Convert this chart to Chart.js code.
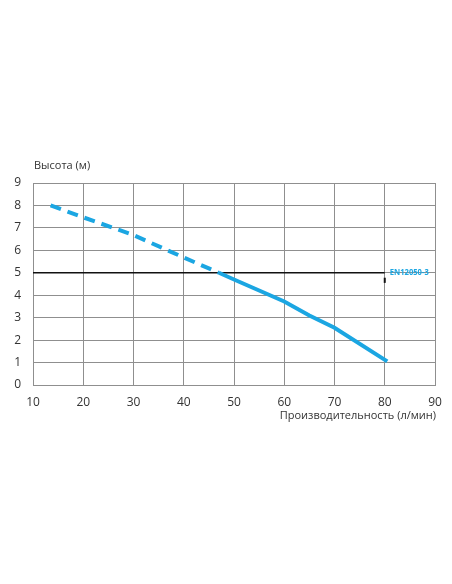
<!DOCTYPE html>
<html><head><meta charset="utf-8">
<script src="https://cdn.jsdelivr.net/npm/chart.js@4.4.1/dist/chart.umd.min.js"></script>
<style>html,body{margin:0;padding:0;background:#fff;}#wrap{width:452px;height:584px;}</style>
</head><body><div id="wrap"><canvas id="c"></canvas></div>
<script>
const xTicks = [10,20,30,40,50,60,70,80,90];
const yTicks = [0,1,2,3,4,5,6,7,8,9];
const dashedX = [13.5,20,30,40,47];
const dashedY = [8.0,7.47,6.68,5.68,5.0];
const solidX = [47,50,60,65,70,80.5];
const solidY = [5.0,4.7,3.72,3.1,2.55,1.05];
const normX = [10,80];
const normY = [5,5];
const normLabel = 'EN12050-3';
const xTitle = 'Производительность (л/мин)';
const yTitle = 'Высота (м)';

const pts = (xs, ys) => xs.map((x,i)=>({x, y: ys[i]}));
const blue = '#1ba6e2';

const labels = {
  id:'labels',
  afterDraw(chart){
    const {ctx, scales:{x,y}, chartArea} = chart;
    ctx.save();
    ctx.fillStyle = '#333';
    ctx.font = '11px "Open Sans"';
    ctx.textBaseline = 'middle';
    ctx.textAlign = 'left';
    ctx.fillText(yTitle, 34, 166);
    ctx.textAlign = 'right';
    ctx.fillText(xTitle, chartArea.right + 1, 416);
    ctx.fillStyle = blue;
    ctx.font = 'bold 9px "Open Sans", sans-serif';
    ctx.textAlign = 'left';
    const w = ctx.measureText(normLabel).width;
    const sx = 39 / w;
    const px = x.getPixelForValue(normX[1]) + 5;
    const py = y.getPixelForValue(normY[1]);
    ctx.translate(px, py);
    ctx.scale(sx, 1);
    ctx.fillText(normLabel, 0, 0);
    ctx.restore();
  }
};

new Chart(document.getElementById('c'), {
  type:'line',
  data:{datasets:[
    {data: pts(dashedX, dashedY), borderColor: blue, borderWidth: 4, borderDash:[11,7], pointRadius:0, tension:0},
    {data: pts(solidX, solidY), borderColor: blue, borderWidth: 4, pointRadius:0, tension:0},
    {data: pts(normX, normY), borderColor: '#111', borderWidth: 1.5, pointRadius:0},
    {data: [{x:80,y:4.55},{x:80,y:4.78}], borderColor:'#111', borderWidth:2, pointRadius:0}
  ]},
  options:{
    responsive:true, maintainAspectRatio:false, animation:false,
    layout:{padding:{top:183, right:17, bottom:169, left:0}},
    plugins:{legend:{display:false}, tooltip:{enabled:false}},
    scales:{
      x:{type:'linear', min:10, max:90,
        afterBuildTicks(s){ s.ticks = xTicks.map(v=>({value:v})); },
        afterFit(s){ s.height = 30; },
        grid:{color:'#8f8f8f', lineWidth:1, drawTicks:false},
        border:{color:'#8f8f8f'},
        ticks:{color:'#333', padding:10, font:{size:12, family:'"Open Sans"'}}
      },
      y:{type:'linear', min:0, max:9,
        afterBuildTicks(s){ s.ticks = yTicks.map(v=>({value:v})); },
        afterFit(s){ s.width = 33; },
        grid:{color:'#8f8f8f', lineWidth:1, drawTicks:false},
        border:{color:'#8f8f8f'},
        ticks:{color:'#333', padding:12, font:{size:12, family:'"Open Sans"'}}
      }
    }
  },
  plugins:[labels]
});
</script></body></html>
